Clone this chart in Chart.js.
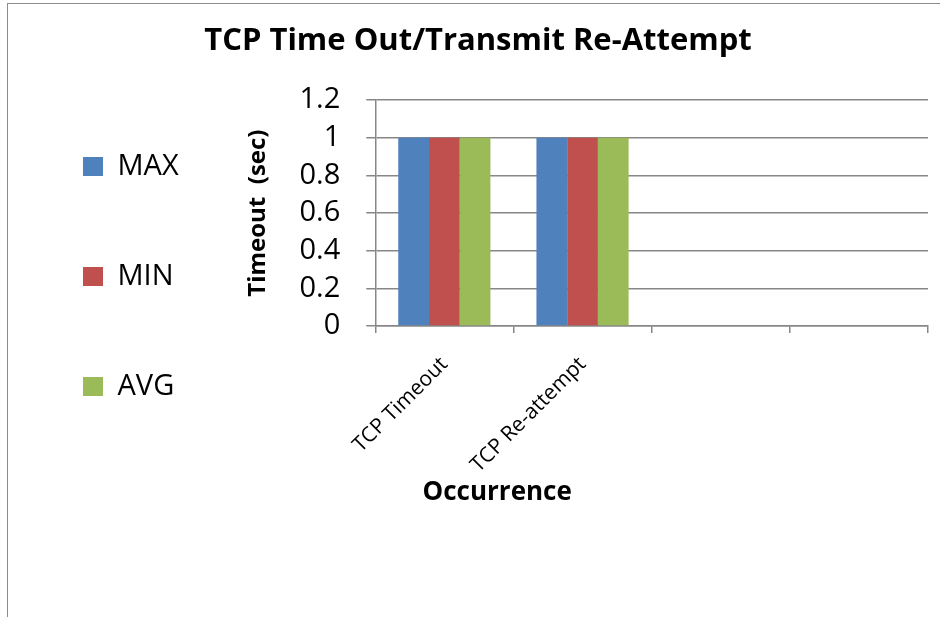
<!DOCTYPE html>
<html>
<head>
<meta charset="utf-8">
<script src="https://cdn.jsdelivr.net/npm/chart.js@4/dist/chart.umd.min.js"></script>
<style>
  body { margin: 0; background: #fff; overflow: hidden; }
  #wrap { position: relative; width: 940px; height: 617px; }
  #frame { position: absolute; left: 7px; top: 3px; right: -10px; bottom: -10px;
           border-left: 1.5px solid #8c8c8c; border-top: 1.5px solid #8c8c8c; }
  canvas { position: absolute; left: 0; top: 0; }
</style>
</head>
<body>
<div id="wrap">
  <div id="frame"></div>
  <canvas id="tcpChart" width="940" height="617"></canvas>
</div>
<script>
// chart data
var categories = ['TCP Timeout', 'TCP Re-attempt', '', ''];
var maxValues = [1, 1, null, null];
var minValues = [1, 1, null, null];
var avgValues = [1, 1, null, null];
var seriesNames = ['MAX', 'MIN', 'AVG'];
var yTicks = { min: 0, max: 1.2, step: 0.2 };

var gridGray = '#878787';
Chart.defaults.font.family = "'Open Sans', sans-serif";
Chart.defaults.color = '#000';

const tcpChartCanvas = document.getElementById('tcpChart');

const chartData = {
    labels: categories,
    datasets: [{
        label: seriesNames[0],
        data: maxValues,
        backgroundColor: '#4F81BD'
    }, {
        label: seriesNames[1],
        data: minValues,
        backgroundColor: '#C0504D'
    }, {
        label: seriesNames[2],
        data: avgValues,
        backgroundColor: '#9BBB59'
    }]
};

const config = {
    type: 'bar',
    data: chartData,
    options: {
        responsive: false,
        animation: false,
        categoryPercentage: 0.667,
        barPercentage: 1,
        layout: {
            padding: { left: 28, right: 12, top: 0, bottom: 38 }
        },
        plugins: {
            title: {
                display: true,
                text: 'TCP Time Out/Transmit Re-Attempt',
                font: { size: 31, weight: 'bold' },
                padding: { top: 23, bottom: 40 }
            },
            legend: {
                position: 'left',
                labels: {
                    boxWidth: 20,
                    boxHeight: 19,
                    padding: 55,
                    font: { size: 29, lineHeight: 55 / 29 },
                    // one-line arrays so each entry takes the taller line height
                    generateLabels: function(chart) {
                        var items = Chart.defaults.plugins.legend.labels.generateLabels(chart);
                        items.forEach(function(item) { item.text = [item.text]; });
                        return items;
                    }
                }
            },
            tooltip: { enabled: false }
        },
        scales: {
            x: {
                grid: {
                    drawOnChartArea: false,
                    drawTicks: true,
                    tickLength: 7,
                    color: gridGray,
                    lineWidth: 1.5
                },
                border: { color: gridGray, width: 1.5 },
                ticks: {
                    minRotation: 45,
                    maxRotation: 45,
                    padding: 19,
                    autoSkip: false,
                    font: { size: 21 }
                },
                title: {
                    display: true,
                    align: 'start',
                    text: '       Occurrence',
                    font: { size: 26, weight: 'bold' },
                    padding: { top: -20, bottom: 71 }
                }
            },
            y: {
                min: yTicks.min,
                max: yTicks.max,
                grid: {
                    tickLength: 9,
                    color: gridGray,
                    lineWidth: 1.5
                },
                border: { color: gridGray, width: 1.5 },
                ticks: {
                    stepSize: yTicks.step,
                    autoSkip: false,
                    padding: 26,
                    font: { size: 29 },
                    // 1 instead of 1.0, like the original
                    callback: function(value) {
                        return String(Math.round(value * 10) / 10);
                    }
                },
                title: {
                    display: true,
                    text: 'Timeout  (sec)',
                    font: { size: 24, weight: 'bold' },
                    padding: { top: 55, bottom: 1 }
                }
            }
        }
    }
};

var tcpChart = new Chart(tcpChartCanvas, config);
</script>
</body>
</html>
